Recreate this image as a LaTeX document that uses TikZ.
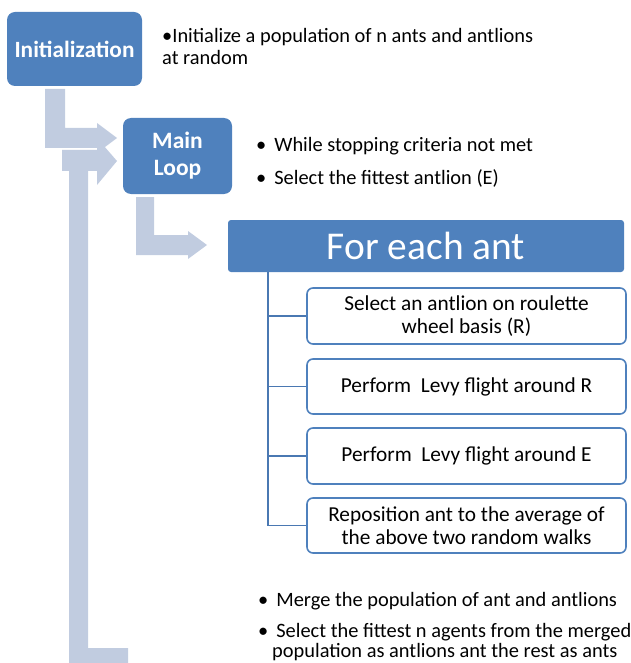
\documentclass[tikz,border=0pt]{standalone}
\usepackage{fontspec}
\setmainfont{Carlito}
\definecolor{boxblue}{HTML}{4F81BD}
\definecolor{arrowgray}{HTML}{C1CCE0}
\definecolor{treeblue}{HTML}{4A78B2}
\begin{document}
\begin{tikzpicture}[x=1pt,y=-1pt,
  bluebox/.style={draw=none,fill=boxblue,rounded corners=8pt,text=white,align=center,inner sep=0pt},
  childbox/.style={draw=boxblue,line width=1.6pt,fill=white,rounded corners=6pt,align=center,inner sep=0pt,minimum width=319pt},
  bullettext/.style={anchor=west,align=left,inner sep=0pt,text=black},
  blockarrow/.style={fill=arrowgray,draw=none},
  treeline/.style={draw=treeblue,line width=1.6pt}
]
\useasboundingbox (0,0) rectangle (630,663);

% block arrows
\fill[blockarrow] (45,89) -- (65,89) -- (65,128) -- (97,128) -- (97,123) -- (117,138) -- (97,153) -- (97,148) -- (45,148) -- cycle;
\fill[white] (62,149) rectangle (98,150);
\fill[blockarrow] (128,648) -- (128,663) -- (69,663) -- (69,171) -- (62,171) -- (62,150) -- (97,150) -- (97,138) -- (117,161) -- (97,185) -- (97,171) -- (88,171) -- (88,648) -- cycle;
\fill[blockarrow] (136,197) -- (154,197) -- (154,235) -- (188,235) -- (188,231) -- (207,245) -- (188,259) -- (188,255) -- (136,255) -- cycle;

% main boxes
\node[bluebox,minimum width=135pt,minimum height=74pt,font=\fontsize{23.3}{27}\selectfont\bfseries] (init) at (74.5,49) {Initialization};
\node[bluebox,minimum width=109pt,minimum height=76pt,font=\fontsize{23.5}{27}\selectfont\bfseries] (main) at (177.5,156) {Main\\Loop};
\node[bluebox,rounded corners=3pt,minimum width=396pt,minimum height=52pt,font=\fontsize{39.4}{44}\selectfont] (fe) at (426,246) {For each ant};

% child boxes
\node[childbox,minimum height=56pt,font=\fontsize{21.3}{22.5}\selectfont] (c1) at (466.5,316) {Select an antlion on roulette\\wheel basis (R)};
\node[childbox,minimum height=55pt,font=\fontsize{21.3}{22.5}\selectfont] (c2) at (466.5,386.5) {Perform\ \ Levy flight around R};
\node[childbox,minimum height=56pt,font=\fontsize{21.3}{22.5}\selectfont] (c3) at (466.5,456) {Perform\ \ Levy flight around E};
\node[childbox,minimum height=55pt,font=\fontsize{21.3}{22.5}\selectfont] (c4) at (466.5,525.5) {Reposition ant to the average of\\the above two random walks};

% tree connectors
\coordinate (troot) at (268,272);
\draw[treeline] (troot) |- (c4.west);
\draw[treeline] (troot |- c1.west) -- (c1.west);
\draw[treeline] (troot |- c2.west) -- (c2.west);
\draw[treeline] (troot |- c3.west) -- (c3.west);

% bullet texts
\node[bullettext,font=\fontsize{20.4}{22}\selectfont] (initbul) at (162,46) {•Initialize a population of n ants and antlions\\at random};
\node[bullettext,font=\fontsize{20.4}{22}\selectfont] (mb1) at (256,146) {•\hspace{8pt}While stopping criteria not met};
\node[bullettext,font=\fontsize{20.4}{22}\selectfont] (mb2) at (256,178) {•\hspace{8pt}Select the fittest antlion (E)};
\node[bullettext,font=\fontsize{20.4}{22}\selectfont] (bb1) at (258,601) {•\hspace{8pt}Merge the population of ant and antlions};
\node[bullettext,font=\fontsize{20.4}{20}\selectfont] (bb2) at (258,642) {•\hspace{8pt}Select the fittest n agents from the merged\\\hspace*{14pt}population as antlions ant the rest as ants};
\end{tikzpicture}
\end{document}
